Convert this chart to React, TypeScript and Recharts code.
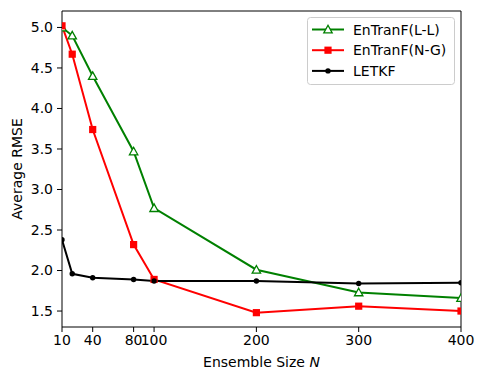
import React from 'react';
import { LineChart, Line, XAxis, YAxis } from 'recharts';

const sizes = [10, 20, 40, 80, 100, 200, 300, 400];
const enTranLL = [5.0, 4.9, 4.4, 3.47, 2.77, 2.01, 1.73, 1.66];
const enTranNG = [5.02, 4.67, 3.74, 2.32, 1.89, 1.48, 1.56, 1.5];
const letkf = [2.38, 1.96, 1.91, 1.89, 1.87, 1.87, 1.84, 1.85];
const xTicks = [10, 40, 80, 100, 200, 300, 400];
const yTicks = [1.5, 2.0, 2.5, 3.0, 3.5, 4.0, 4.5, 5.0];
const seriesNames = ['EnTranF(L-L)', 'EnTranF(N-G)', 'LETKF'];

const data = sizes.map((n, i) => ({ n, ll: enTranLL[i], ng: enTranNG[i], letkf: letkf[i] }));

const FONT = 'DejaVu Sans, sans-serif';
const FS = 14;
const GREEN = '#008000';
const RED = '#ff0000';
const BLACK = '#000000';

const Triangle = (props: any) => {
  const { cx, cy } = props;
  if (cx == null || cy == null) return null;
  const s = 4.2;
  return (
    <path
      d={`M${cx},${cy - s} L${cx + s},${cy + s * 0.8} L${cx - s},${cy + s * 0.8} Z`}
      fill="#ffffff"
      stroke={GREEN}
      strokeWidth={1.3}
    />
  );
};
const Square = (props: any) => {
  const { cx, cy } = props;
  if (cx == null || cy == null) return null;
  const s = 3.6;
  return <rect x={cx - s} y={cy - s} width={2 * s} height={2 * s} fill={RED} />;
};
const Dot = (props: any) => {
  const { cx, cy } = props;
  if (cx == null || cy == null) return null;
  return <circle cx={cx} cy={cy} r={2.7} fill={BLACK} />;
};

const LegendBox = () => {
  const rows = [
    { name: seriesNames[0], color: GREEN, marker: 'tri' },
    { name: seriesNames[1], color: RED, marker: 'sq' },
    { name: seriesNames[2], color: BLACK, marker: 'dot' },
  ];
  return (
    <svg width={148} height={68} style={{ display: 'block' }}>
      <rect x={0.5} y={0.5} width={147} height={67} rx={3} fill="rgba(255,255,255,0.8)" stroke="#cccccc" strokeWidth={1} />
      {rows.map((r, i) => {
        const y = 12.5 + i * 20.7;
        const cx = 21;
        return (
          <g key={r.name}>
            <line x1={5} x2={37} y1={y} y2={y} stroke={r.color} strokeWidth={2} />
            {r.marker === 'tri' && <Triangle cx={cx} cy={y} />}
            {r.marker === 'sq' && <Square cx={cx} cy={y} />}
            {r.marker === 'dot' && <Dot cx={cx} cy={y} />}
            <text x={46} y={y} dy="0.36em" fontFamily={FONT} fontSize={FS} fill="#000">
              {r.name}
            </text>
          </g>
        );
      })}
    </svg>
  );
};

const XLabel = (props: any) => {
  const vb = props.viewBox || {};
  const cx = vb.x + vb.width / 2;
  return (
    <text x={cx} y={367} textAnchor="middle" fontFamily={FONT} fontSize={FS} fill="#000">
      Ensemble Size <tspan fontStyle="italic">N</tspan>
    </text>
  );
};

const YLabel = (props: any) => {
  const vb = props.viewBox || {};
  const cy = vb.y + vb.height / 2;
  return (
    <text
      x={17}
      y={cy}
      textAnchor="middle"
      dominantBaseline="central"
      transform={`rotate(-90, 17, ${cy})`}
      fontFamily={FONT}
      fontSize={FS}
      fill="#000"
    >
      Average RMSE
    </text>
  );
};

const tickStyle = { fontFamily: FONT, fontSize: FS, fill: '#000' };

export default function App() {
  return (
    <div style={{ position: 'absolute', left: 0, top: 0, width: 485, height: 381, background: '#fff' }}>
      <LineChart
        width={485}
        height={381}
        data={data}
        margin={{ top: 10, right: 23, left: 12, bottom: 0 }}
      >
        <XAxis
          xAxisId="main"
          dataKey="n"
          type="number"
          domain={[10, 400]}
          ticks={xTicks}
          allowDataOverflow
          interval={0}
          height={54}
          tickSize={5}
          tickMargin={3}
          stroke="#000"
          tick={tickStyle}
          tickLine={{ stroke: '#000' }}
          axisLine={{ stroke: '#000' }}
          label={<XLabel />}
        />
        <XAxis
          xAxisId="top"
          orientation="top"
          dataKey="n"
          type="number"
          domain={[10, 400]}
          height={1}
          tick={false}
          tickLine={false}
          axisLine={{ stroke: '#000' }}
        />
        <YAxis
          yAxisId="main"
          type="number"
          domain={[1.303, 5.203]}
          ticks={yTicks}
          allowDataOverflow
          interval={0}
          width={50}
          tickSize={5}
          tickMargin={4}
          tickFormatter={(v: number) => v.toFixed(1)}
          tick={tickStyle}
          tickLine={{ stroke: '#000' }}
          axisLine={{ stroke: '#000' }}
          label={<YLabel />}
        />
        <YAxis
          yAxisId="right"
          orientation="right"
          type="number"
          domain={[1.303, 5.203]}
          width={1}
          tick={false}
          tickLine={false}
          axisLine={{ stroke: '#000' }}
        />
        <Line
          xAxisId="main"
          yAxisId="main"
          dataKey="ll"
          name={seriesNames[0]}
          stroke={GREEN}
          strokeWidth={2}
          dot={<Triangle />}
          activeDot={false}
          isAnimationActive={false}
        />
        <Line
          xAxisId="main"
          yAxisId="main"
          dataKey="ng"
          name={seriesNames[1]}
          stroke={RED}
          strokeWidth={2}
          dot={<Square />}
          activeDot={false}
          isAnimationActive={false}
        />
        <Line
          xAxisId="main"
          yAxisId="main"
          dataKey="letkf"
          name={seriesNames[2]}
          stroke={BLACK}
          strokeWidth={2}
          dot={<Dot />}
          activeDot={false}
          isAnimationActive={false}
        />
      </LineChart>
      <div style={{ position: 'absolute', left: 307, top: 17 }}>
        <LegendBox />
      </div>
    </div>
  );
}
